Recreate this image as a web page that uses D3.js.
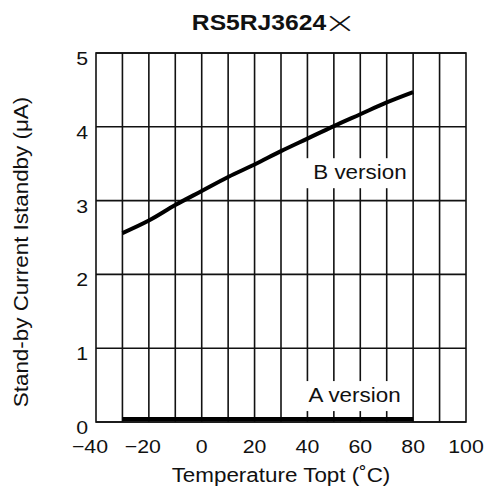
<!DOCTYPE html>
<html><head><meta charset="utf-8">
<script src="https://cdn.jsdelivr.net/npm/d3@7"></script>
<style>body{margin:0;background:#fff}svg{display:block}text{font-family:"Liberation Sans",Arial,sans-serif;fill:#111}</style>
</head><body>
<script>
// Data
const temps = [-30, -20, -10, 0, 10, 20, 30, 40, 50, 60, 70, 80];
const bVersion = [2.56, 2.73, 2.94, 3.13, 3.32, 3.49, 3.67, 3.84, 4.01, 4.17, 4.33, 4.47];
const aVersion = [0.04, 0.04, 0.04, 0.04, 0.04, 0.04, 0.04, 0.04, 0.04, 0.04, 0.04, 0.04];
const xTickLabels = [-40, -20, 0, 20, 40, 60, 80, 100];
const xGrid = [-30, -20, -10, 0, 10, 20, 30, 40, 50, 60, 70, 80, 90];
const yTickLabels = [0, 1, 2, 3, 4, 5];
const seriesLabels = [{name: "B version", t: 42.2, v: 3.29}, {name: "A version", t: 40.4, v: 0.27}];
const titleText = "RS5RJ3624";
const titleMark = "\u00d7";
const xTitle = "Temperature Topt (˚C)";
const yTitle = "Stand-by Current Istandby (μA)";

const W = 486, H = 487, STRETCH = 1.12;
const svg = d3.select("body").append("svg").attr("width", W).attr("height", H);
const x = d3.scaleLinear().domain([-40, 100]).range([96, 466]);
const y = d3.scaleLinear().domain([0, 5]).range([422, 53]);

function stretch(sel, k) {
  sel.each(function () {
    const n = this.getComputedTextLength();
    this.setAttribute("textLength", n * (k || STRETCH));
    this.setAttribute("lengthAdjust", "spacingAndGlyphs");
  });
  return sel;
}

const g = svg.append("g");
g.selectAll(".vg").data(xGrid).join("line")
  .attr("x1", d => x(d)).attr("x2", d => x(d)).attr("y1", y(0)).attr("y2", y(5))
  .attr("stroke", "#111").attr("stroke-width", 1.6);
g.selectAll(".hg").data(yTickLabels).join("line")
  .attr("x1", x(-40)).attr("x2", x(100)).attr("y1", d => y(d)).attr("y2", d => y(d))
  .attr("stroke", "#111").attr("stroke-width", 1.6);
g.append("rect").attr("x", x(-40)).attr("y", y(5)).attr("width", x(100) - x(-40)).attr("height", y(0) - y(5))
  .attr("fill", "none").attr("stroke", "#111").attr("stroke-width", 1.6);

const lab = svg.append("g");
seriesLabels.forEach(s => {
  const t = lab.append("text").attr("x", x(s.t)).attr("y", y(s.v)).attr("font-size", 20).text(s.name);
  stretch(t);
  const bb = t.node().getBBox();
  lab.insert("rect", "text").attr("x", bb.x - 8).attr("y", bb.y - 3).attr("width", bb.width + 13).attr("height", bb.height + 8).attr("fill", "#fff");
});

const line = d3.line().x((d, i) => x(temps[i])).y(d => y(d)).curve(d3.curveMonotoneX);
svg.append("path").datum(bVersion).attr("d", line).attr("fill", "none").attr("stroke", "#000").attr("stroke-width", 4);
svg.append("path").datum(aVersion).attr("d", line).attr("fill", "none").attr("stroke", "#000").attr("stroke-width", 4);

const xt = svg.append("g").selectAll("text").data(xTickLabels).join("text")
  .attr("x", d => x(d) + (d < 0 ? -6 : 0)).attr("y", 453).attr("text-anchor", "middle").attr("font-size", 19)
  .text(d => d < 0 ? "\u2212" + Math.abs(d) : d);
stretch(xt);
const yt = svg.append("g").selectAll("text").data(yTickLabels).join("text")
  .attr("x", 88).attr("y", d => y(d) + 12).attr("text-anchor", "end").attr("font-size", 19).text(d => d);
stretch(yt);

// title
stretch(svg.append("text").attr("x", 259).attr("y", 30).attr("text-anchor", "middle")
  .attr("font-size", 22).attr("font-weight", "bold").text(titleText));
svg.append("text").attr("transform", "translate(340,33) scale(1.35,1)").attr("text-anchor", "middle")
  .style("font-family", '"DejaVu Sans"').attr("font-weight", 200)
  .attr("font-size", 30).attr("fill", "#222").text(titleMark);

stretch(svg.append("text").attr("x", 281).attr("y", 482).attr("text-anchor", "middle").attr("font-size", 20).text(xTitle));
stretch(svg.append("text").attr("transform", "translate(28,252) rotate(-90)").attr("text-anchor", "middle").attr("font-size", 20).text(yTitle));
</script>
</body></html>
